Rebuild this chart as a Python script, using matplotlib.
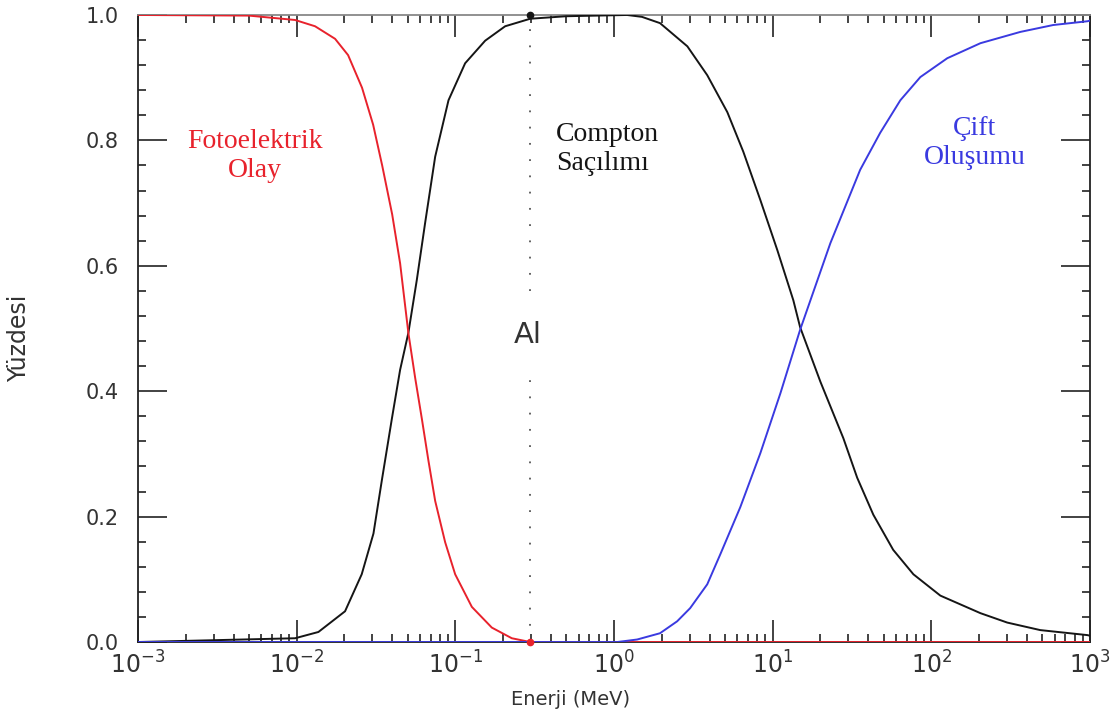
import numpy as np
import matplotlib
matplotlib.use('Agg')
import matplotlib.pyplot as plt
from matplotlib.ticker import LogLocator, MultipleLocator, FixedLocator, FuncFormatter

plt.rcParams['mathtext.default'] = 'regular'

##### DATA (energy in MeV, fraction 0..1)
foto_e = [0.001, 0.005, 0.00977, 0.01306, 0.01746, 0.02109, 0.02582, 0.03034,
          0.03459, 0.03999, 0.04487, 0.05058, 0.05585, 0.06152, 0.06761, 0.07464,
          0.0863, 0.09977, 0.1271, 0.1698, 0.227, 0.2965, 1000]
foto_y = [1.0, 0.999, 0.992, 0.982, 0.962, 0.936, 0.884, 0.825,
          0.760, 0.682, 0.604, 0.493, 0.421, 0.356, 0.290, 0.225,
          0.159, 0.108, 0.056, 0.023, 0.006, 0.0, 0.0]

compton_e = [0.001, 0.00977, 0.01371, 0.02018, 0.0257, 0.03048, 0.03443, 0.03981,
             0.04487, 0.05058, 0.05715, 0.06457, 0.07464, 0.09057, 0.1153, 0.1542,
             0.2061, 0.2965, 0.5, 1.21, 1.5, 1.95, 2.90, 3.87, 5.18, 6.53, 8.36, 10.7,
             13.5, 14.9, 20.0, 27.9, 34.1, 43.1, 57.5, 77.1, 114, 204, 301, 486,
             964, 1000]
compton_y = [0.0, 0.006, 0.016, 0.049, 0.108, 0.173, 0.258, 0.356,
             0.434, 0.493, 0.577, 0.669, 0.774, 0.864, 0.923, 0.959,
             0.982, 0.994, 0.998, 1.0, 0.997, 0.987, 0.950, 0.904, 0.845, 0.782, 0.705, 0.625,
             0.545, 0.502, 0.415, 0.325, 0.262, 0.203, 0.147, 0.108, 0.074, 0.046, 0.031, 0.019,
             0.011, 0.010]

cift_e = [0.001, 1.05, 1.4, 1.95, 2.5, 3.02, 3.87, 4.68, 6.25, 8.36, 11.2, 14.9, 23.1,
          35.6, 47.6, 63.8, 85.3, 126, 204, 364, 587, 964, 1000]
cift_y = [0.0, 0.0, 0.004, 0.014, 0.033, 0.054, 0.092, 0.140, 0.215, 0.301, 0.397, 0.498, 0.636,
          0.753, 0.812, 0.864, 0.901, 0.931, 0.955, 0.973, 0.984, 0.990, 0.991]

al_energy = 0.2965
x_ticks = [1e-3, 1e-2, 1e-1, 1e0, 1e1, 1e2, 1e3]
y_ticks = [0.0, 0.2, 0.4, 0.6, 0.8, 1.0]

##### FIGURE
fig = plt.figure(figsize=(11.12, 7.27), dpi=100)
ax = fig.add_axes([0.1241, 0.1169, 0.8561, 0.8625])

red = '#e8222c'
blue = '#3a3ae0'
black = '#151515'

ax.plot(compton_e, compton_y, color=black, lw=1.4, zorder=3)
ax.plot(foto_e, foto_y, color=red, lw=1.4, zorder=4)
ax.plot(cift_e, cift_y, color=blue, lw=1.4, zorder=5)

##### Al MARKER LINE
ax.vlines(al_energy, 0.0, 0.42, colors='#555555', linestyles=(0, (1, 8)), lw=1.3, zorder=2)
ax.vlines(al_energy, 0.56, 1.0, colors='#555555', linestyles=(0, (1, 8)), lw=1.3, zorder=2)
ax.plot([al_energy], [1.0], 'o', color=black, ms=4.5, zorder=6, clip_on=False)
ax.plot([al_energy], [0.0], 'o', color=red, ms=4.5, zorder=6, clip_on=False)
ax.text(0.409, 0.49, 'Al', transform=ax.transAxes, ha='center', va='center',
        fontsize=21, color='#333333')

##### LABELS ON CURVES
ax.text(0.123, 0.775, 'Fotoelektrik\nOlay', transform=ax.transAxes, ha='center', va='center',
        family='Liberation Serif', fontsize=20, color=red, linespacing=1.2)
ax.text(0.439, 0.786, 'Compton\nSaçılımı', transform=ax.transAxes, ha='left', va='center',
        family='Liberation Serif', fontsize=20, color=black, linespacing=1.2)
ax.text(0.879, 0.796, 'Çift\nOluşumu', transform=ax.transAxes, ha='center', va='center',
        family='Liberation Serif', fontsize=20, color=blue, linespacing=1.2)

##### AXES
ax.set_xscale('log')
ax.set_xlim(1e-3, 1e3)
ax.set_ylim(0, 1)
ax.xaxis.set_major_locator(FixedLocator(x_ticks))
ax.xaxis.set_minor_locator(LogLocator(base=10, subs=np.arange(2, 10)))
ax.xaxis.set_major_formatter(FuncFormatter(lambda v, p: r'$10^{%d}$' % round(np.log10(v))))
ax.xaxis.set_minor_formatter(FuncFormatter(lambda v, p: ''))
ax.yaxis.set_major_locator(FixedLocator(y_ticks))
ax.yaxis.set_minor_locator(MultipleLocator(0.04))
ax.yaxis.set_major_formatter(FuncFormatter(lambda v, p: '%.1f' % v))

ax.tick_params(which='both', direction='in', top=True, right=True, color='#222222')
ax.tick_params(which='minor', length=6, width=1.2)
ax.tick_params(axis='x', which='major', length=16, width=1.2, labelsize=17, pad=7,
               labelcolor='#333333')
ax.tick_params(axis='y', which='major', length=21, width=1.2, labelsize=15, pad=14,
               labelcolor='#333333')

for s in ['left', 'right', 'bottom']:
    ax.spines[s].set_color('#222222')
    ax.spines[s].set_linewidth(1.3)
ax.spines['top'].set_color('#888888')
ax.spines['top'].set_linewidth(1.3)

ax.set_xlabel('Enerji (MeV)', fontsize=14, color='#333333')
ax.xaxis.set_label_coords(0.454, -0.076)
ax.set_ylabel('Yüzdesi', fontsize=17, color='#333333')
ax.yaxis.set_label_coords(-0.112, 0.485)

fig.savefig('out.png', dpi=100)
